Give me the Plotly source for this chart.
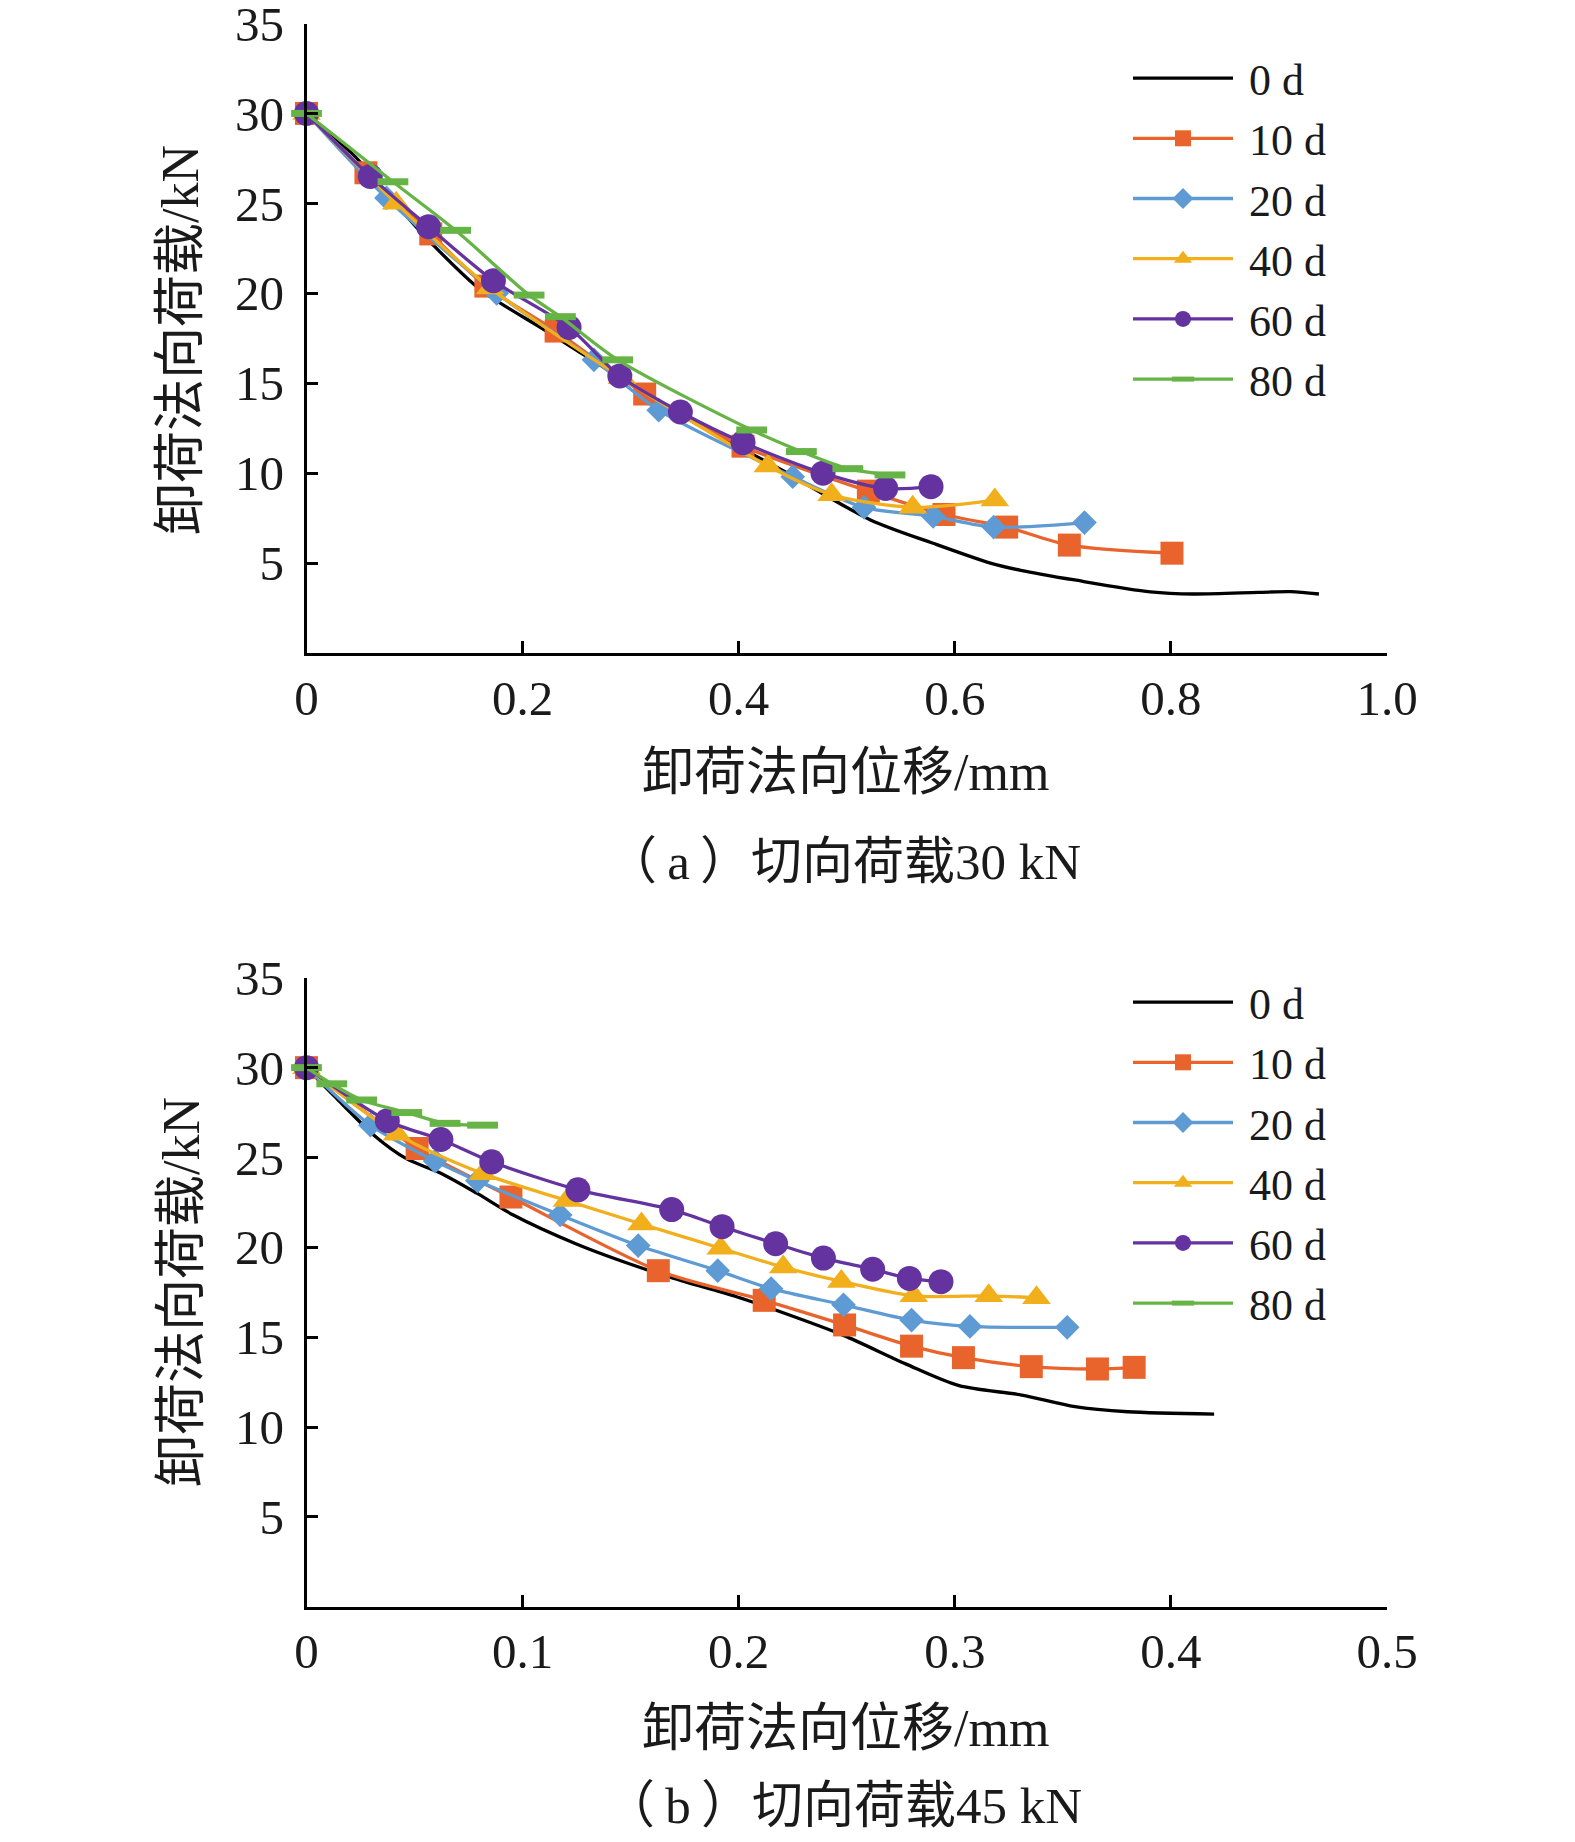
import plotly.graph_objects as go

# ---------------- data: (a) shear load 30 kN ----------------
a0_x = [0, 0.045, 0.088, 0.117, 0.161, 0.222, 0.280, 0.365, 0.439, 0.522, 0.580, 0.633, 0.661, 0.711, 0.781, 0.821, 0.881, 0.911, 0.937]
a0_y = [30, 27.6, 24.6, 22.7, 20.2, 17.9, 15.7, 12.6, 10.2, 7.4, 6.1, 5.0, 4.6, 4.06, 3.4, 3.28, 3.37, 3.41, 3.28]
a10_x = [0, 0.055, 0.115, 0.166, 0.231, 0.313, 0.404, 0.520, 0.590, 0.648, 0.706, 0.801]
a10_y = [30, 26.7, 23.3, 20.4, 17.9, 14.4, 11.5, 9.0, 7.7, 7.0, 6.0, 5.55]
a20_x = [0, 0.074, 0.176, 0.266, 0.326, 0.450, 0.516, 0.580, 0.636, 0.720]
a20_y = [30, 25.3, 20.0, 16.3, 13.5, 9.8, 8.1, 7.6, 7.0, 7.25]
a40_x = [0, 0.083, 0.170, 0.292, 0.427, 0.486, 0.561, 0.637]
a40_y = [30, 25.0, 20.3, 15.3, 10.4, 8.8, 8.1, 8.5]
a60_x = [0, 0.059, 0.113, 0.173, 0.243, 0.290, 0.346, 0.404, 0.478, 0.536, 0.578]
a60_y = [30, 26.5, 23.7, 20.7, 18.1, 15.4, 13.4, 11.7, 10.0, 9.15, 9.25]
a80_x = [0, 0.080, 0.138, 0.206, 0.235, 0.288, 0.412, 0.458, 0.501, 0.540]
a80_y = [30, 26.2, 23.5, 19.9, 18.7, 16.3, 12.4, 11.2, 10.25, 9.9]

# ---------------- data: (b) shear load 45 kN ----------------
b0_x = [0, 0.013, 0.0316, 0.046, 0.0626, 0.079, 0.0957, 0.1246, 0.149, 0.170, 0.199, 0.2196, 0.2485, 0.2775, 0.302, 0.331, 0.3556, 0.380, 0.420]
b0_y = [30, 28.4, 26.2, 24.95, 24.1, 23.0, 21.8, 20.2, 19.1, 18.27, 17.25, 16.4, 15.1, 13.5, 12.3, 11.78, 11.13, 10.85, 10.72]
b10_x = [0, 0.0512, 0.0946, 0.1628, 0.2118, 0.249, 0.280, 0.304, 0.3354, 0.366, 0.383]
b10_y = [30, 25.5, 22.8, 18.7, 17.05, 15.68, 14.5, 13.86, 13.36, 13.23, 13.32]
b20_x = [0, 0.0296, 0.0595, 0.0791, 0.1174, 0.1535, 0.1903, 0.215, 0.2485, 0.280, 0.307, 0.352]
b20_y = [30, 26.8, 24.8, 23.7, 21.8, 20.1, 18.7, 17.7, 16.8, 15.95, 15.6, 15.55]
b40_x = [0, 0.0419, 0.0816, 0.1205, 0.155, 0.1917, 0.2206, 0.2475, 0.281, 0.3157, 0.3378]
b40_y = [30, 26.3, 24.1, 22.6, 21.3, 19.95, 18.9, 18.1, 17.3, 17.3, 17.2]
b60_x = [0, 0.0374, 0.0622, 0.0857, 0.1256, 0.169, 0.1923, 0.2171, 0.2392, 0.262, 0.279, 0.2936]
b60_y = [30, 27.05, 26.0, 24.76, 23.2, 22.1, 21.15, 20.2, 19.4, 18.78, 18.27, 18.09]
b80_x = [0, 0.0117, 0.0255, 0.0464, 0.0641, 0.0815]
b80_y = [30, 29.1, 28.2, 27.5, 26.9, 26.8]

series_names = ["0 d", "10 d", "20 d", "40 d", "60 d", "80 d"]
y_ticks = [5, 10, 15, 20, 25, 30, 35]
xa_ticks = [0, 0.2, 0.4, 0.6, 0.8, 1.0]
xa_text = ["0", "0.2", "0.4", "0.6", "0.8", "1.0"]
xb_ticks = [0, 0.1, 0.2, 0.3, 0.4, 0.5]
xb_text = ["0", "0.1", "0.2", "0.3", "0.4", "0.5"]

colors = ["#000000", "#E8642C", "#5E9AD3", "#F2AF1C", "#6433A0", "#66B446"]
LAT = "Liberation Serif, Times New Roman, Noto Sans CJK SC, serif"

W, H = 1575, 1842
OFF = 8  # page body margin


def px(v):
    return (v - OFF) / W


def py(v):
    return 1 - (v - OFF) / H


def style(i):
    if i == 0:
        return dict(mode="lines", marker=None)
    if i == 1:
        return dict(mode="lines+markers", marker=dict(symbol="square", size=23, color=colors[i]))
    if i == 2:
        return dict(mode="lines+markers", marker=dict(symbol="diamond", size=19, color=colors[i]))
    if i == 3:
        return dict(mode="lines+markers", marker=dict(symbol="triangle-up", size=25, color=colors[i]))
    if i == 4:
        return dict(mode="lines+markers", marker=dict(symbol="circle", size=25, color=colors[i]))
    return dict(mode="lines+markers", marker=dict(symbol="line-ew", size=22, color=colors[i],
                                                  line=dict(width=7, color=colors[i])))


fig = go.Figure()
sets = [
    ("x", "y", "legend", [(a0_x, a0_y), (a10_x, a10_y), (a20_x, a20_y), (a40_x, a40_y), (a60_x, a60_y), (a80_x, a80_y)]),
    ("x2", "y2", "legend2", [(b0_x, b0_y), (b10_x, b10_y), (b20_x, b20_y), (b40_x, b40_y), (b60_x, b60_y), (b80_x, b80_y)]),
]
for xa, ya, lg, data in sets:
    for i, (xs, ys) in enumerate(data):
        st = style(i)
        kw = dict(x=xs, y=ys, name="\u00a0" + series_names[i], xaxis=xa, yaxis=ya, legend=lg,
                  mode=st["mode"], cliponaxis=False,
                  line=dict(color=colors[i], width=3.3, shape="spline", smoothing=0.8))
        if st["marker"] is not None:
            kw["marker"] = st["marker"]
        fig.add_trace(go.Scatter(**kw))

xdom = [px(306.5), px(1387)]
ya_dom = [py(653), py(23.5)]
yb_dom = [py(1606.7), py(977.8)]

axis_common = dict(showline=True, linecolor="black", linewidth=2.5, ticks="inside",
                   ticklen=12, tickwidth=2.5, tickcolor="black", showgrid=False, zeroline=False,
                   automargin=False, ticklabeloverflow="allow",
                   tickfont=dict(family=LAT, size=49, color="#1a1a1a"))

legend_common = dict(xanchor="left", yanchor="top", bgcolor="rgba(0,0,0,0)",
                     font=dict(family=LAT, size=44, color="#1a1a1a"), itemwidth=100,
                     tracegroupgap=0)

fig.update_layout(
    width=W, height=H, margin=dict(l=0, r=0, t=0, b=0, autoexpand=False),
    paper_bgcolor="white", plot_bgcolor="white",
    xaxis=dict(domain=xdom, range=[0, 1.0], tickvals=xa_ticks, ticktext=xa_text, anchor="y",
               ticklabelstandoff=0, **axis_common),
    yaxis=dict(domain=ya_dom, range=[0, 35], tickvals=y_ticks, anchor="x",
               ticklabelstandoff=10, **axis_common),
    xaxis2=dict(domain=xdom, range=[0, 0.5], tickvals=xb_ticks, ticktext=xb_text, anchor="y2",
                ticklabelstandoff=0, **axis_common),
    yaxis2=dict(domain=yb_dom, range=[0, 35], tickvals=y_ticks, anchor="x2",
                ticklabelstandoff=10, **axis_common),
    legend=dict(x=px(1128), y=py(43), **legend_common),
    legend2=dict(x=px(1128), y=py(967), **legend_common),
)

ann_font = dict(family=LAT, size=52, color="#1a1a1a")
cap_font = dict(family=LAT, size=51, color="#1a1a1a")
anns = [
    dict(text="卸荷法向位移/mm", x=px(846), y=py(773), font=ann_font),
    dict(text="（\u2009a\u2009）切向荷载30 kN", x=px(843), y=py(862), font=cap_font),
    dict(text="卸荷法向位移/mm", x=px(846), y=py(1728), font=ann_font),
    dict(text="（\u2009b\u2009）切向荷载45 kN", x=px(843), y=py(1806), font=cap_font),
]
for a in anns:
    fig.add_annotation(xref="paper", yref="paper", xanchor="center", yanchor="middle",
                       showarrow=False, **a)
for yc in [340, 1292]:
    fig.add_annotation(text="卸荷法向荷载/kN", xref="paper", yref="paper", x=px(181), y=py(yc),
                       xanchor="center", yanchor="middle", textangle=-90, showarrow=False,
                       font=dict(family=LAT, size=52, color="#1a1a1a"))

fig.write_html("out.html")
